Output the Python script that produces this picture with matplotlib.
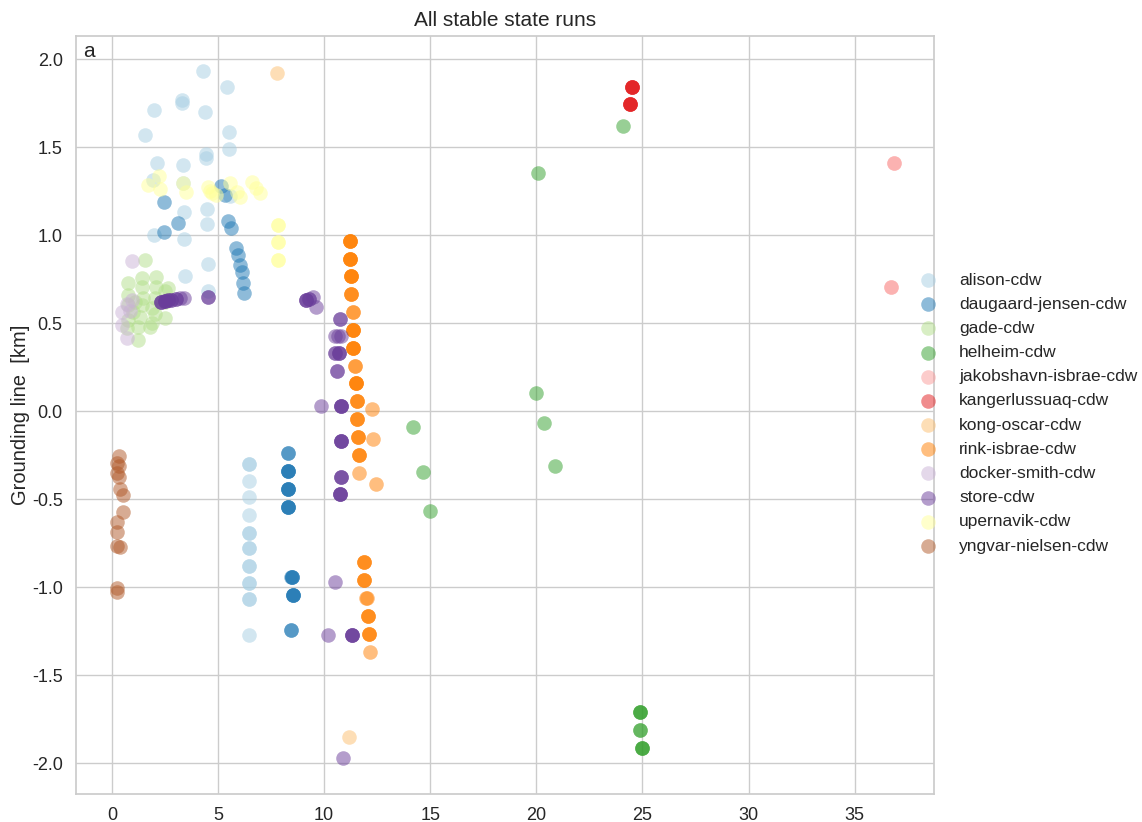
import matplotlib
matplotlib.use("Agg")
from matplotlib import pyplot as plt
from matplotlib.ticker import FormatStrFormatter, MultipleLocator
import seaborn as sns

# stable state runs per glacier: x position [km], grounding line [km]
# (repeated entries are runs that ended at the same place)
alison_x = [4.3, 5.4, 1.98, 3.3, 3.3, 4.4, 1.56, 5.5, 5.5, 4.43, 4.43, 2.1, 3.35, 1.93, 3.35,
            5.55, 3.4, 4.48, 4.48, 1.98, 3.4, 4.53, 3.44, 4.53,
            6.46, 6.46, 6.46, 6.46, 6.46, 6.46, 6.46, 6.46, 6.46, 6.46, 6.46, 6.46, 6.46, 6.46, 6.46, 6.46]
alison_y = [1.93, 1.84, 1.71, 1.77, 1.75, 1.70, 1.57, 1.585, 1.49, 1.46, 1.44, 1.41, 1.40, 1.31, 1.295,
            1.22, 1.13, 1.15, 1.06, 1.0, 0.98, 0.835, 0.77, 0.68,
            -0.30, -0.30, -0.40, -0.49, -0.59, -0.69, -0.69, -0.78, -0.78, -0.88, -0.88, -0.975, -0.975,
            -1.07, -1.07, -1.27]

daugaard_x = [2.45, 3.1, 2.45, 5.14, 5.33, 5.47, 5.6, 5.85, 5.94, 6.04, 6.13, 6.18, 6.23,
              8.3, 8.3, 8.3, 8.3, 8.3, 8.3, 8.3, 8.3, 8.3, 8.3, 8.3, 8.3, 8.3, 8.3,
              8.45, 8.5, 8.5, 8.5, 8.54, 8.54, 8.54, 8.54, 8.44, 8.44]
daugaard_y = [1.19, 1.07, 1.02, 1.28, 1.23, 1.08, 1.04, 0.926, 0.886, 0.83, 0.79, 0.727, 0.67,
              -0.24, -0.24, -0.34, -0.34, -0.34, -0.34, -0.44, -0.44, -0.44, -0.44,
              -0.545, -0.545, -0.545, -0.545,
              -0.94, -0.94, -0.94, -0.94, -1.045, -1.045, -1.045, -1.045, -1.245, -1.245]

gade_x = [1.56, 0.75, 1.42, 2.08, 2.64, 0.75, 1.42, 2.08, 1.46, 2.03, 0.75, 1.9, 2.5, 1.32, 0.75,
          1.23, 1.8, 0.7, 1.23, 1.9, 2.5, 2.5, 1.42, 2.03, 1.0, 1.1]
gade_y = [0.86, 0.73, 0.755, 0.76, 0.70, 0.66, 0.705, 0.705, 0.64, 0.64, 0.60, 0.585, 0.53, 0.535, 0.52,
          0.48, 0.48, 0.47, 0.405, 0.50, 0.62, 0.68, 0.60, 0.55, 0.56, 0.62]

helheim_x = [24.07, 20.08, 20.0, 14.2, 20.35, 14.65, 20.9, 15.0,
             24.9, 24.9, 24.9, 24.9, 24.9, 25.0, 25.0, 25.0]
helheim_y = [1.62, 1.35, 0.10, -0.09, -0.07, -0.345, -0.31, -0.57,
             -1.71, -1.71, -1.71, -1.81, -1.81, -1.913, -1.913, -1.913]

jakobshavn_x = [36.87, 36.87, 36.7, 36.7]
jakobshavn_y = [1.41, 1.41, 0.706, 0.706]

kanger_x = [24.53, 24.53, 24.53, 24.53, 24.4, 24.4, 24.4, 24.4]
kanger_y = [1.84, 1.84, 1.84, 1.84, 1.745, 1.745, 1.745, 1.745]

kong_oscar_x = [7.78, 11.18]
kong_oscar_y = [1.92, -1.85]

rink_x = [11.23, 11.23, 11.23, 11.23, 11.23, 11.23, 11.23, 11.23, 11.25, 11.25, 11.25, 11.25,
          11.28, 11.28, 11.28, 11.35, 11.35, 11.38, 11.38, 11.38, 11.38, 11.38, 11.38, 11.38, 11.38,
          11.43, 11.43, 11.5, 11.5, 11.5, 11.5, 11.54, 11.54, 11.54, 11.56, 11.56, 11.56,
          11.6, 11.6, 11.6, 11.62, 11.62, 11.62,
          12.25, 12.28, 11.63, 12.45,
          11.9, 11.9, 11.9, 11.9, 11.9, 11.9, 11.95, 12.02, 12.06, 12.06, 12.06, 12.1, 12.1, 12.1, 12.14]
rink_y = [0.966, 0.966, 0.966, 0.966, 0.865, 0.865, 0.865, 0.865, 0.767, 0.767, 0.767, 0.767,
          0.665, 0.665, 0.665, 0.563, 0.563, 0.46, 0.46, 0.46, 0.46, 0.36, 0.36, 0.36, 0.36,
          0.257, 0.257, 0.157, 0.157, 0.157, 0.157, 0.055, 0.055, 0.055, -0.047, -0.047, -0.047,
          -0.15, -0.15, -0.15, -0.25, -0.25, -0.25,
          0.01, -0.16, -0.354, -0.416,
          -0.86, -0.86, -0.86, -0.96, -0.96, -0.96, -1.064, -1.064, -1.163, -1.163, -1.163,
          -1.265, -1.265, -1.265, -1.367]

docker_x = [0.93, 0.93, 0.69, 0.85, 0.46, 0.46, 0.69]
docker_y = [0.85, 0.63, 0.61, 0.57, 0.56, 0.49, 0.415]

store_x = [2.33, 2.33, 2.33, 2.5, 2.5, 2.5, 2.65, 2.65, 2.8, 2.8, 3.0, 3.0, 3.2, 3.4, 4.53, 4.53,
           9.16, 9.16, 9.16, 9.3, 9.3, 9.47, 9.63, 10.76, 10.76, 10.5, 10.65, 10.8,
           10.5, 10.5, 10.72, 10.72, 10.72, 10.6, 10.6, 9.83,
           10.8, 10.8, 10.8, 10.8, 10.77, 10.77, 10.77, 10.77, 10.77, 10.77, 10.77,
           10.76, 10.76, 10.76, 10.76, 10.52, 10.18, 11.3, 11.3, 11.3, 11.3, 10.91]
store_y = [0.62, 0.62, 0.62, 0.625, 0.625, 0.625, 0.63, 0.63, 0.63, 0.63, 0.635, 0.635, 0.64, 0.64, 0.65, 0.65,
           0.63, 0.63, 0.63, 0.635, 0.635, 0.65, 0.59, 0.525, 0.525, 0.426, 0.426, 0.426,
           0.328, 0.328, 0.328, 0.328, 0.328, 0.229, 0.229, 0.028,
           0.028, 0.028, 0.028, 0.028, -0.172, -0.172, -0.172, -0.172, -0.373, -0.373, -0.373,
           -0.47, -0.47, -0.47, -0.47, -0.973, -1.273, -1.273, -1.273, -1.273, -1.273, -1.973]

upernavik_x = [1.71, 2.21, 2.26, 3.36, 3.51, 4.53, 4.6, 4.69, 4.92, 5.55, 5.87, 6.02, 6.6, 6.8, 6.96,
               7.82, 7.82, 7.82, 7.82, 7.82, 7.82]
upernavik_y = [1.284, 1.337, 1.26, 1.294, 1.246, 1.274, 1.25, 1.237, 1.227, 1.294, 1.246, 1.218, 1.303,
               1.265, 1.237, 1.057, 1.057, 0.958, 0.958, 0.858, 0.858]

yngvar_x = [0.34, 0.22, 0.34, 0.22, 0.34, 0.38, 0.53, 0.53, 0.22, 0.22, 0.22, 0.38, 0.25, 0.25]
yngvar_y = [-0.256, -0.297, -0.31, -0.354, -0.373, -0.44, -0.477, -0.572, -0.629, -0.686, -0.767,
            -0.774, -1.007, -1.027]

glaciers = ["alison-cdw", "daugaard-jensen-cdw", "gade-cdw", "helheim-cdw", "jakobshavn-isbrae-cdw",
            "kangerlussuaq-cdw", "kong-oscar-cdw", "rink-isbrae-cdw", "docker-smith-cdw", "store-cdw",
            "upernavik-cdw", "yngvar-nielsen-cdw"]
runs = [(alison_x, alison_y), (daugaard_x, daugaard_y), (gade_x, gade_y), (helheim_x, helheim_y),
        (jakobshavn_x, jakobshavn_y), (kanger_x, kanger_y), (kong_oscar_x, kong_oscar_y),
        (rink_x, rink_y), (docker_x, docker_y), (store_x, store_y), (upernavik_x, upernavik_y),
        (yngvar_x, yngvar_y)]

sns.set_theme(style="whitegrid")
plt.rcParams['font.family'] = ['Liberation Sans', 'DejaVu Sans']
colors = sns.color_palette("Paired", len(glaciers))

fig, ax = plt.subplots(figsize=(11.42, 8.22), dpi=100)
fig.subplots_adjust(left=0.0665, right=0.818, bottom=0.034, top=0.956)

for name, (xs, ys), c in zip(glaciers, runs, colors):
    ax.scatter(xs, ys, s=110, color=c, alpha=0.5, linewidths=0, label=name)

ax.set_xlim(-1.7, 38.75)
ax.set_ylim(-2.176, 2.13)
ax.xaxis.set_major_locator(MultipleLocator(5))
ax.yaxis.set_major_locator(MultipleLocator(0.5))
ax.yaxis.set_major_formatter(FormatStrFormatter('%.1f'))
ax.tick_params(labelsize=13)
ax.set_ylabel("Grounding line  [km]", fontsize=14.5, labelpad=1)
ax.set_title("All stable state runs", fontsize=15, pad=7)
ax.text(0.008, 0.992, "a", transform=ax.transAxes, fontsize=15, va="top", ha="left")

fig.legend(loc="center left", bbox_to_anchor=(0.7837, 0.4976), frameon=False,
           fontsize=12.5, labelspacing=0.52, scatterpoints=1)

fig.savefig("out.png", dpi=100)
